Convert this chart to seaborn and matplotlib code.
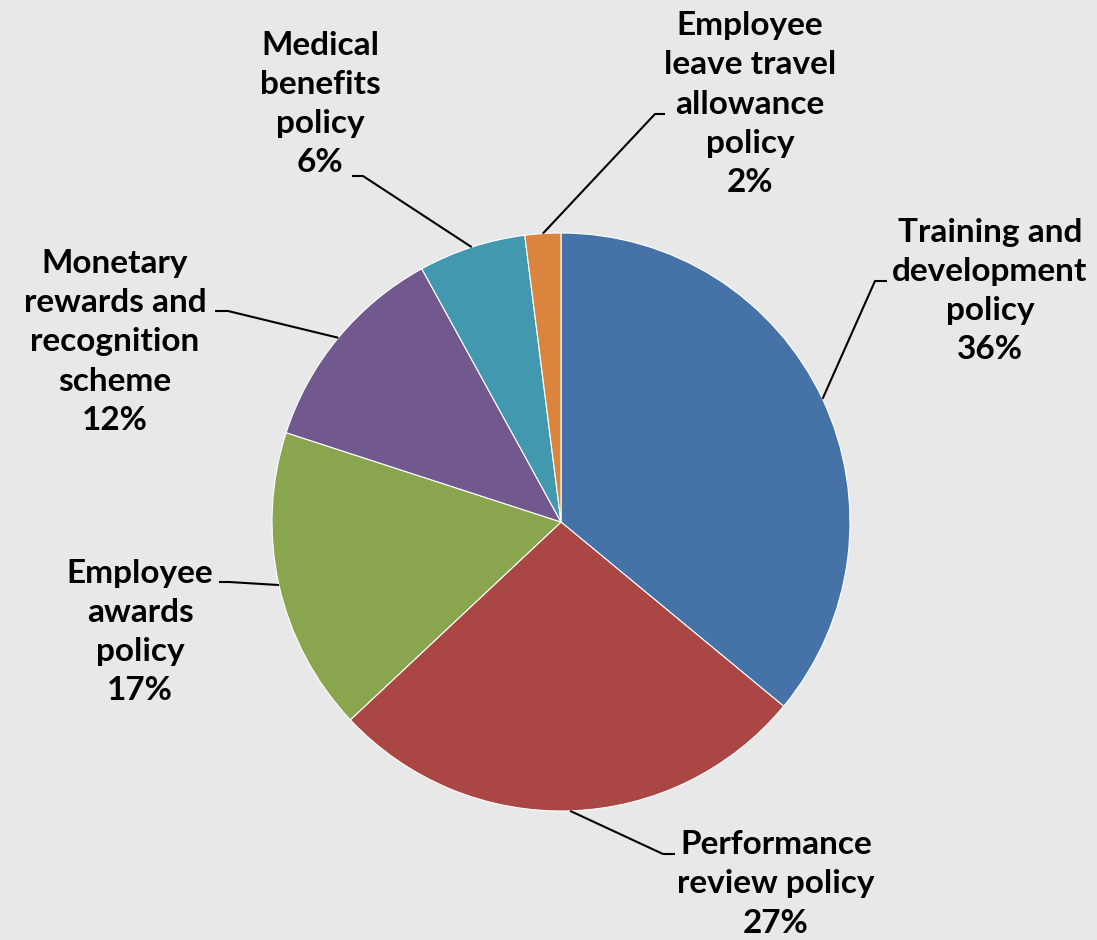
# Pie chart of employee policy preferences, drawn with matplotlib on a seaborn theme.
import numpy as np
import matplotlib.pyplot as plt
import seaborn as sns

sns.set_theme(style="white")
plt.rcParams['font.family'] = ['Lato', 'DejaVu Sans']

# Data (clockwise from 12 o'clock).
policies = [
    "Training and\ndevelopment\npolicy",
    "Performance\nreview policy",
    "Employee\nawards\npolicy",
    "Monetary\nrewards and\nrecognition\nscheme",
    "Medical\nbenefits\npolicy",
    "Employee\nleave travel\nallowance\npolicy",
]
shares = [36, 27, 17, 12, 6, 2]
colors = ["#4572a7", "#aa4643", "#89a54e", "#71588f", "#4198af", "#db843d"]

# Layout in figure pixels (y measured from the top of the picture).
W, H = 1097, 940
center = (561, 522)
radius = 289
label_pos = [(990, 291), (776, 884), (140, 632), (115, 342), (320, 104), (750, 104)]
elbows = [((875, 281), (887, 281)),
          ((663, 854), (675, 854)),
          ((229, 582), (219, 582)),
          ((228, 311), (215, 311)),
          ((363, 176), (352, 176)),
          ((655, 114), (665, 114))]

fig = plt.figure(figsize=(W / 100, H / 100), dpi=100)
fig.patch.set_facecolor("#e8e8e8")
ax = fig.add_axes([0, 0, 1, 1])
ax.set_facecolor("#e8e8e8")

wedges, _ = ax.pie(shares, colors=colors, startangle=90, counterclock=False,
                   radius=radius, center=(center[0], H - center[1]),
                   wedgeprops=dict(edgecolor="white", linewidth=0.8))
ax.set_xlim(0, W)
ax.set_ylim(0, H)
ax.set_aspect("equal")
ax.axis("off")

for w, name, v, (tx, ty), (el, end) in zip(wedges, policies, shares, label_pos, elbows):
    # anchor the leader line at the middle of the wedge's outer arc
    mid = np.deg2rad((w.theta1 + w.theta2) / 2)
    ax_x = center[0] + radius * np.cos(mid)
    ax_y = H - center[1] + radius * np.sin(mid)
    ax.plot([ax_x, el[0], end[0]], [ax_y, H - el[1], H - end[1]],
            color="black", linewidth=1.5, solid_capstyle="butt")
    ax.text(tx, H - ty, f"{name}\n{v}%", ha="center", va="center",
            fontsize=24, fontweight="bold", color="black", linespacing=1.42)

fig.savefig("out.png", dpi=100, facecolor=fig.get_facecolor())
plt.close(fig)
